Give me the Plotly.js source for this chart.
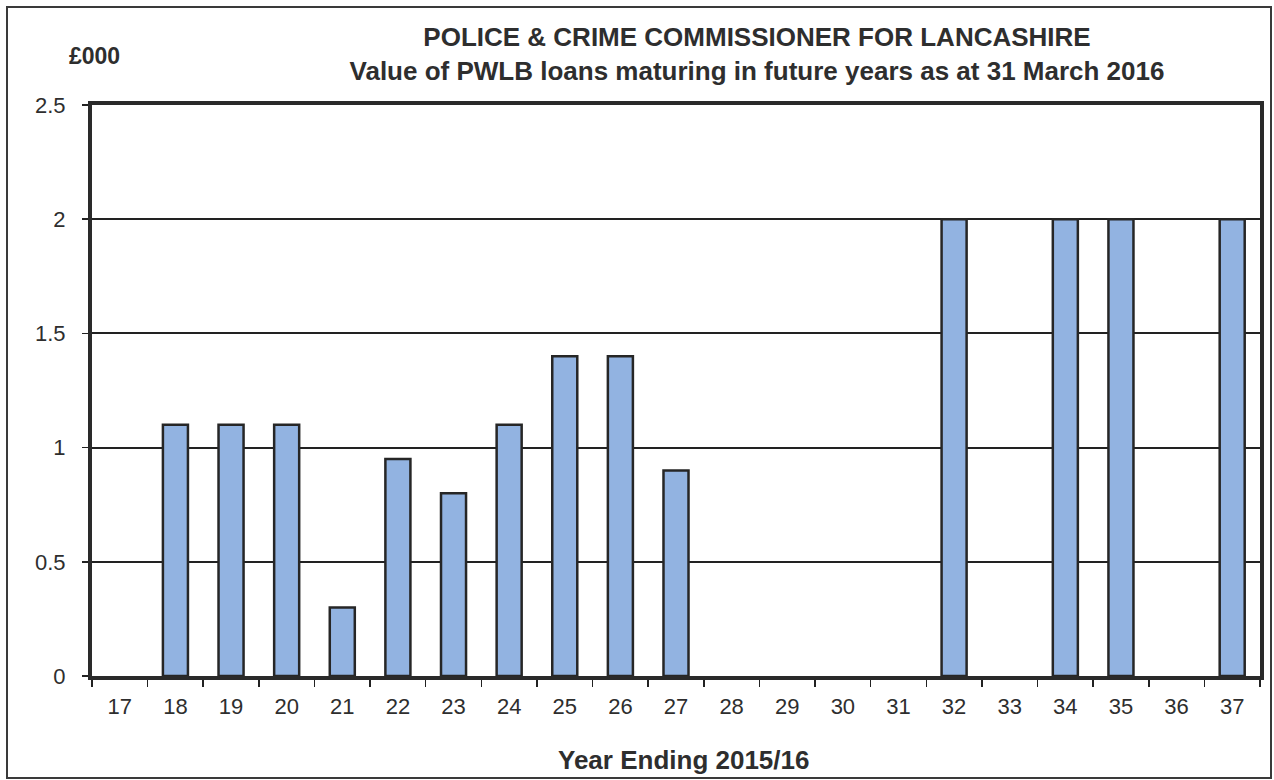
<!DOCTYPE html>
<html>
<head>
<meta charset="utf-8">
<script src="https://cdn.plot.ly/plotly-3.0.1.min.js"></script>
<style>html,body{margin:0;padding:0;background:#fff;}#chart{width:1274px;height:780px;}</style>
</head>
<body>
<div id="chart"></div>
<script>
const years = ['17','18','19','20','21','22','23','24','25','26','27','28','29','30','31','32','33','34','35','36','37'];
const loanValues = [0, 1.1, 1.1, 1.1, 0.3, 0.95, 0.8, 1.1, 1.4, 1.4, 0.9, 0, 0, 0, 0, 2, 0, 2, 2, 0, 2];
const yTicks = [0, 0.5, 1, 1.5, 2, 2.5];
const yTickText = ['0', '0.5', '1', '1.5', '2', '2.5'];

const W = 1274, H = 780;
const L = 92, R = 1260, T = 105, B = 676;
const px = x => (x - L) / (R - L);
const py = y => (B - y) / (B - T);

const textColor = '#2e2e2e';
const font = 'Liberation Sans, Arial, Helvetica, sans-serif';

const trace = {
  type: 'bar',
  x: years,
  y: loanValues,
  width: 0.45,
  marker: {
    color: '#92b3e1',
    line: { color: '#262626', width: loanValues.map(v => v > 0 ? 2.5 : 0) }
  },
  hoverinfo: 'x+y'
};

const layout = {
  width: W, height: H,
  margin: { l: L, r: W - R, t: T, b: H - B, pad: 0 },
  paper_bgcolor: '#fff', plot_bgcolor: '#fff',
  showlegend: false,
  font: { family: font, color: textColor, size: 20 },
  title: {
    text: '<b>POLICE & CRIME COMMISSIONER FOR LANCASHIRE</b><br><b>Value of PWLB loans maturing in future years as at 31 March 2016</b>',
    font: { family: font, size: 26, color: textColor },
    x: 757 / W, xref: 'container', xanchor: 'center',
    y: 1 - 46 / H, yref: 'container', yanchor: 'middle'
  },
  xaxis: {
    type: 'category',
    tickson: 'boundaries',
    ticks: 'outside', ticklen: 7, tickwidth: 1.5, tickcolor: '#222',
    showline: true, linecolor: '#2a2a2a', linewidth: 4, mirror: true,
    showgrid: false, zeroline: false,
    tickfont: { family: font, size: 22, color: textColor },
    ticklabelstandoff: 8,
    range: [-0.5, years.length - 0.5]
  },
  yaxis: {
    range: [0, 2.5],
    tickmode: 'array', tickvals: yTicks, ticktext: yTickText,
    ticks: 'outside', ticklen: 6, tickwidth: 1.5, tickcolor: '#222',
    showline: true, linecolor: '#2a2a2a', linewidth: 4, mirror: true,
    showgrid: true, gridcolor: '#222', gridwidth: 2,
    zeroline: false,
    tickfont: { family: font, size: 22, color: textColor },
    ticklabelstandoff: 12
  },
  annotations: [
    {
      text: '<b>£000</b>', xref: 'paper', yref: 'paper',
      x: px(94), y: py(56), xanchor: 'center', yanchor: 'middle',
      showarrow: false, font: { family: font, size: 23, color: textColor }
    },
    {
      text: '<b>Year Ending 2015/16</b>', xref: 'paper', yref: 'paper',
      x: px(683), y: py(760), xanchor: 'center', yanchor: 'middle',
      showarrow: false, font: { family: font, size: 26, color: textColor }
    }
  ],
  shapes: [
    {
      type: 'rect', xref: 'paper', yref: 'paper',
      x0: px(7), x1: px(1271), y0: py(778), y1: py(7),
      line: { color: '#3a3a3a', width: 2 }, fillcolor: 'rgba(0,0,0,0)', layer: 'below'
    }
  ]
};

Plotly.newPlot('chart', [trace], layout, { displayModeBar: false, staticPlot: true });
</script>
</body>
</html>
